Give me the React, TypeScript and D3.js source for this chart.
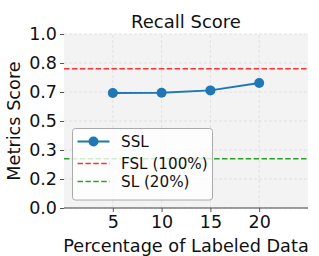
import { useEffect, useRef } from "react";
import * as d3 from "d3";

const labeled = [5, 10, 15, 20];
const sslScores = [0.661, 0.662, 0.676, 0.718];
const fslScore = 0.8;
const slScore = 0.283;
const yTicks = [0, 1 / 6, 2 / 6, 3 / 6, 4 / 6, 5 / 6, 1];
const legendItems = ["SSL", "FSL (100%)", "SL (20%)"];

export default function App() {
  const svgRef = useRef<SVGSVGElement>(null);

  useEffect(() => {
    const width = 319;
    const height = 256;
    const margin = { top: 34, right: 11, bottom: 48, left: 64 };
    const font = "DejaVu Sans, sans-serif";

    const svg = d3.select(svgRef.current);
    svg.selectAll("*").remove();
    svg.attr("width", width).attr("height", height).style("display", "block");

    svg.append("rect").attr("width", width).attr("height", height).attr("fill", "#fff");

    const x = d3.scaleLinear().domain([0, 25]).range([margin.left, width - margin.right]);
    const y = d3.scaleLinear().domain([0, 1]).range([height - margin.bottom, margin.top]);

    svg
      .append("rect")
      .attr("x", x(0))
      .attr("y", y(1))
      .attr("width", x(25) - x(0))
      .attr("height", y(0) - y(1))
      .attr("fill", "#f3f3f3");

    // grid
    const grid = svg.append("g").attr("stroke", "#dcdcdc").attr("stroke-width", 0.8).attr("stroke-dasharray", "3,2");
    labeled.forEach(v => {
      grid.append("line").attr("x1", x(v)).attr("x2", x(v)).attr("y1", y(0)).attr("y2", y(1));
    });
    yTicks.forEach(v => {
      grid.append("line").attr("x1", x(0)).attr("x2", x(25)).attr("y1", y(v)).attr("y2", y(v));
    });

    // axes
    const yAxis = svg
      .append("g")
      .attr("transform", `translate(${x(0)},0)`)
      .call(d3.axisLeft(y).tickValues(yTicks).tickFormat(d3.format(".1f")).tickSize(4).tickPadding(3));
    yAxis.select(".domain").remove();
    yAxis.selectAll(".tick line").attr("stroke", "#555");
    yAxis.selectAll("text").style("font-family", font).style("font-size", "17.5px").attr("fill", "#111");

    const xAxis = svg
      .append("g")
      .attr("transform", `translate(0,${y(0)})`)
      .call(d3.axisBottom(x).tickValues(labeled).tickSize(4).tickPadding(4));
    xAxis.select(".domain").attr("stroke", "#444").attr("d", `M${x(0)},0H${x(25)}`);
    xAxis.selectAll(".tick line").attr("stroke", "#555");
    xAxis.selectAll("text").style("font-family", font).style("font-size", "17.5px").attr("fill", "#111");

    // reference lines
    svg
      .append("line")
      .attr("x1", x(0))
      .attr("x2", x(25))
      .attr("y1", y(fslScore))
      .attr("y2", y(fslScore))
      .attr("stroke", "#ff0000")
      .attr("stroke-opacity", 0.8)
      .attr("stroke-width", 1.5)
      .attr("stroke-dasharray", "5.5,2.4");
    svg
      .append("line")
      .attr("x1", x(0))
      .attr("x2", x(25))
      .attr("y1", y(slScore))
      .attr("y2", y(slScore))
      .attr("stroke", "#2ca02c")
      .attr("stroke-width", 1.5)
      .attr("stroke-dasharray", "5.5,2.4");

    // SSL line
    const pts = labeled.map((v, i) => [v, sslScores[i]] as [number, number]);
    svg
      .append("path")
      .attr("d", d3.line<[number, number]>().x(d => x(d[0])).y(d => y(d[1]))(pts))
      .attr("fill", "none")
      .attr("stroke", "#1f77b4")
      .attr("stroke-width", 2);
    svg
      .selectAll("circle.pt")
      .data(pts)
      .enter()
      .append("circle")
      .attr("cx", d => x(d[0]))
      .attr("cy", d => y(d[1]))
      .attr("r", 5)
      .attr("fill", "#1f77b4");

    // title and labels
    svg
      .append("text")
      .attr("x", (x(0) + x(25)) / 2)
      .attr("y", 28)
      .attr("text-anchor", "middle")
      .style("font-family", font)
      .style("font-size", "18px")
      .attr("fill", "#111")
      .text("Recall Score");
    svg
      .append("text")
      .attr("x", (x(0) + x(25)) / 2)
      .attr("y", 251.5)
      .attr("text-anchor", "middle")
      .style("font-family", font)
      .style("font-size", "17.7px")
      .attr("fill", "#111")
      .text("Percentage of Labeled Data");
    svg
      .append("text")
      .attr("transform", `translate(20,${(y(0) + y(1)) / 2}) rotate(-90)`)
      .attr("text-anchor", "middle")
      .style("font-family", font)
      .style("font-size", "17.7px")
      .attr("fill", "#111")
      .text("Metrics Score");

    // legend
    const lg = svg.append("g").attr("transform", "translate(72.5,128.5)");
    lg.append("rect")
      .attr("width", 140)
      .attr("height", 71.5)
      .attr("rx", 3)
      .attr("fill", "rgba(255,255,255,0.8)")
      .attr("stroke", "#aaa")
      .attr("stroke-width", 1);
    const rowY = [13, 35, 53];
    const colors = ["#1f77b4", "rgba(255,0,0,0.8)", "#2ca02c"];
    legendItems.forEach((name, i) => {
      const ly = rowY[i];
      const ln = lg
        .append("line")
        .attr("x1", 5)
        .attr("x2", 37)
        .attr("y1", ly)
        .attr("y2", ly)
        .attr("stroke", colors[i])
        .attr("stroke-width", i === 0 ? 2 : 1.5);
      if (i > 0) ln.attr("stroke-dasharray", "5.5,2.4");
      if (i === 0) lg.append("circle").attr("cx", 21).attr("cy", ly).attr("r", 5).attr("fill", colors[i]);
      lg.append("text")
        .attr("x", 48.5)
        .attr("y", ly)
        .attr("dy", "0.35em")
        .style("font-family", font)
        .style("font-size", "15.2px")
        .attr("fill", "#111")
        .text(name);
    });
  }, []);

  return (
    <div style={{ position: "fixed", left: 0, top: 0 }}>
      <svg ref={svgRef}></svg>
    </div>
  );
}
